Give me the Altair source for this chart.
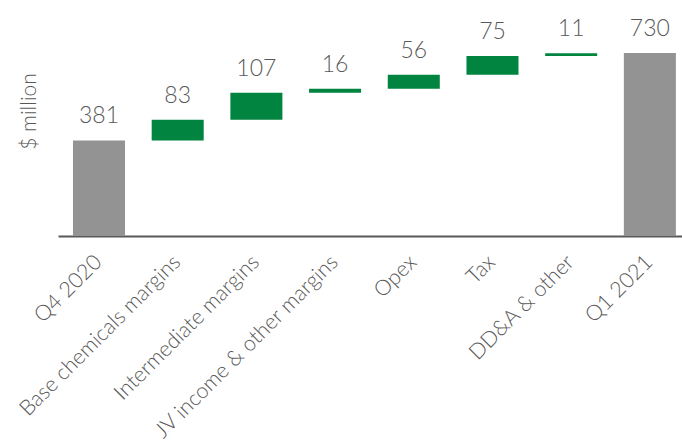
import altair as alt
import pandas as pd

categories = ["Q4 2020", "Base chemicals margins", "Intermediate margins",
              "JV income & other margins", "Opex", "Tax", "DD&A & other", "Q1 2021"]
values = [381, 83, 107, 16, 56, 75, 11, 730]
kinds = ["total", "delta", "delta", "delta", "delta", "delta", "delta", "total"]

starts, ends = [], []
run = 0
for v, k in zip(values, kinds):
    if k == "total":
        s, e = 0, v
        run = v
    else:
        s, e = run, run + v
        run = e
    starts.append(s)
    ends.append(e)

df = pd.DataFrame({"category": categories, "value": values, "kind": kinds,
                   "start": starts, "end": ends,
                   "label": [str(v) for v in values]})

FONT = "Lato"
GREY_TXT = "#595959"

y_scale = alt.Scale(domain=[0, 941], nice=False)
y_axis = alt.Axis(title="$ million", labels=False, ticks=False, domain=False,
                  grid=False, titleFont=FONT, titleFontSize=21,
                  titleFontWeight=300, titleColor=GREY_TXT,
                  titleAngle=-90, titleAlign="center", titleBaseline="middle",
                  titleX=-29, titleY=111)

base = alt.Chart(df).encode(
    x=alt.X("category:N", sort=categories,
            scale=alt.Scale(paddingInner=0.339, paddingOuter=0.134, align=0.71),
            axis=alt.Axis(title=None, labelAngle=-45, ticks=False,
                          domainColor=GREY_TXT, domainWidth=2,
                          labelFont=FONT, labelFontSize=21.5, labelFontWeight=300,
                          labelColor=GREY_TXT, labelAlign="right", labelBaseline="top",
                          labelPadding=15, labelOffset=-8, labelLimit=400))
)

bars = base.mark_bar().encode(
    y=alt.Y("start:Q", scale=y_scale, axis=y_axis),
    y2="end:Q",
    color=alt.Color("kind:N", scale=alt.Scale(domain=["total", "delta"],
                                              range=["#939393", "#00843f"]),
                    legend=None),
)

text = base.mark_text(dy=-17, baseline="alphabetic", font=FONT, fontSize=23,
                      fontWeight=300, color=GREY_TXT).encode(
    y=alt.Y("end:Q", scale=y_scale, axis=y_axis),
    text="label:N",
)

chart = (bars + text).properties(
    width=624, height=236,
    autosize=alt.AutoSizeParams(type="none"),
    padding={"left": 58, "top": 0, "right": 0, "bottom": 208},
    background="white",
).configure_view(strokeWidth=0, stroke="transparent")

chart.save("out.html", embed_options={"renderer": "svg", "actions": False})
